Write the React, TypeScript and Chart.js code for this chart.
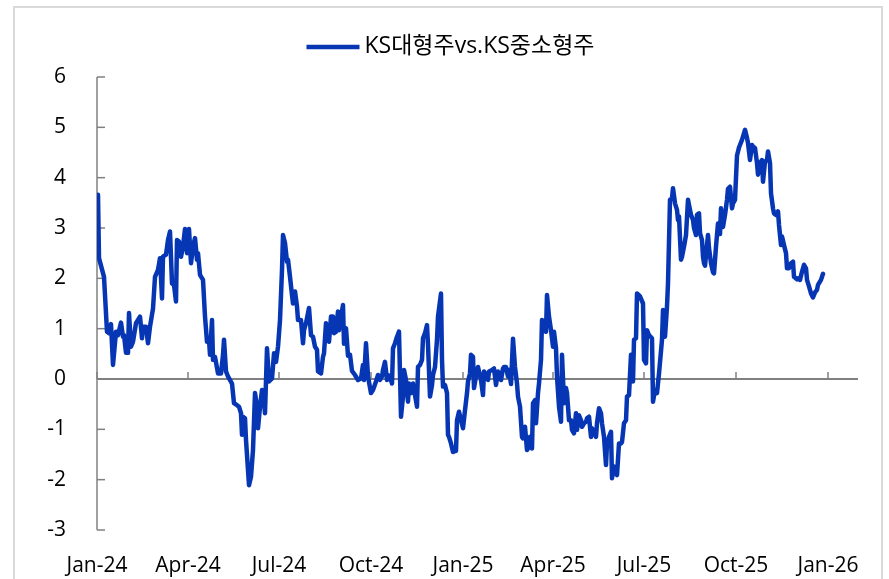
import React, { useEffect, useRef } from "react";
import { Chart, registerables } from "chart.js";

Chart.register(...registerables);

const seriesLabel = "KS대형주vs.KS중소형주";
const tickLabels = ["Jan-24", "Apr-24", "Jul-24", "Oct-24", "Jan-25", "Apr-25", "Jul-25", "Oct-25", "Jan-26"];
// days since 2024-01-01 for each quarter tick
const tickDays = [0, 91, 182, 274, 366, 456, 547, 639, 731];
const xMaxDay = 761;
const yMin = -3;
const yMax = 6;

// observation dates (days since 2024-01-01)
const daysSince2024 = [
  1, 2, 7, 10, 12, 14, 16, 19, 21, 24, 26, 27, 29, 31, 32, 34, 36, 39, 43, 45, 46, 49, 51, 53, 56, 58, 61, 63, 65, 66,
  69, 71, 73, 75, 77, 79, 80, 82, 84, 86, 88, 90, 92, 94, 96, 98, 100, 101, 103, 106, 108, 110, 112, 113, 115, 116, 118, 121, 124, 126,
  127, 129, 131, 135, 137, 140, 142, 144, 145, 146, 148, 149, 152, 154, 156, 158, 160, 161, 163, 165, 166, 168, 170, 172, 175, 177, 179, 181, 183, 185,
  186, 188, 190, 191, 193, 195, 196, 198, 200, 201, 204, 206, 207, 209, 210, 212, 214, 216, 218, 220, 221, 224, 226, 227, 229, 230, 232, 234, 236, 237,
  239, 241, 242, 244, 246, 247, 249, 251, 253, 255, 258, 261, 264, 266, 267, 269, 271, 274, 276, 279, 281, 283, 285, 286, 288, 290, 291, 293, 295, 296,
  298, 300, 302, 304, 306, 307, 309, 311, 312, 314, 316, 318, 320, 321, 323, 325, 326, 328, 330, 331, 333, 335, 336, 338, 340, 341, 344, 345, 346, 348,
  350, 351, 352, 354, 356, 359, 360, 362, 364, 366, 368, 370, 371, 373, 374, 376, 377, 379, 381, 382, 384, 386, 387, 389, 391, 392, 395, 397, 399, 401,
  402, 404, 406, 407, 409, 411, 412, 414, 416, 418, 420, 421, 423, 425, 426, 428, 430, 431, 433, 435, 436, 438, 439, 441, 442, 444, 445, 447, 449, 450,
  452, 454, 456, 457, 459, 460, 462, 464, 465, 467, 469, 470, 472, 474, 475, 477, 479, 480, 482, 484, 485, 487, 489, 490, 492, 494, 495, 497, 499, 500,
  502, 504, 505, 507, 509, 510, 512, 514, 515, 517, 519, 520, 522, 524, 525, 527, 529, 530, 532, 534, 536, 537, 539, 540, 543, 546, 547, 549, 550, 552,
  555, 556, 558, 560, 562, 565, 566, 568, 570, 571, 573, 575, 576, 578, 580, 581, 582, 584, 585, 587, 589, 591, 592, 594, 596, 597, 599, 600, 602, 603,
  605, 606, 607, 608, 611, 612, 614, 616, 617, 619, 621, 622, 623, 624, 626, 628, 630, 631, 633, 635, 636, 638, 640, 642, 645, 648, 650, 651, 653, 655,
  656, 658, 660, 661, 663, 665, 666, 668, 670, 671, 673, 674, 676, 677, 679, 681, 682, 684, 685, 687, 689, 690, 692, 694, 696, 697, 700, 701, 703, 705,
  707, 709, 710, 712, 714, 716, 718, 720, 721, 724, 726,
];

// KS large caps vs. KS small/mid caps spread
const spreadValues = [
  3.66, 2.40, 2.03, 0.94, 0.91, 1.09, 0.28, 0.94, 0.87, 1.12, 0.84, 0.87, 0.52, 0.52, 1.31, 0.64, 0.74, 1.11, 1.24, 0.81, 1.04, 1.04, 0.71, 1.04, 1.40, 2.03, 2.17, 2.40, 1.60, 2.43,
  2.47, 2.76, 2.93, 1.90, 1.87, 1.54, 2.76, 2.73, 2.43, 2.63, 2.98, 2.50, 2.98, 2.30, 2.63, 2.80, 2.37, 2.50, 2.07, 1.97, 1.24, 0.74, 0.78, 0.48, 1.17, 0.38, 0.44, 0.11, 0.11, 0.48,
  0.78, 0.15, 0.05, -0.09, -0.48, -0.52, -0.55, -0.68, -1.11, -0.75, -0.78, -1.21, -2.11, -1.94, -1.41, -0.28, -0.55, -0.98, -0.55, -0.22, -0.25, -0.68, 0.61, -0.05, 0.01, 0.51, 0.34, 0.64, 1.17, 2.17,
  2.86, 2.70, 2.33, 2.37, 2.03, 1.67, 1.50, 1.74, 1.44, 1.17, 1.17, 0.71, 0.97, 1.11, 1.21, 1.41, 0.87, 0.84, 0.64, 0.58, 0.15, 0.11, 0.44, 0.51, 1.11, 0.91, 0.74, 1.24, 1.24, 0.91,
  0.94, 1.34, 0.97, 1.24, 1.47, 0.70, 1.01, 0.46, 0.48, 0.16, 0.08, -0.02, 0.01, 0.28, -0.02, 0.71, 0.05, -0.28, -0.22, -0.05, 0.08, -0.02, 0.05, 0.18, 0.34, -0.02, 0.08, 0.05, -0.09, 0.61,
  0.71, 0.84, 0.94, -0.75, -0.35, 0.18, -0.02, -0.45, -0.09, -0.28, -0.09, -0.32, -0.55, 0.24, 0.28, 0.38, 0.81, 0.91, 1.07, 0.68, -0.35, -0.12, 0.08, 0.24, 0.78, 1.24, 1.70, 0.38, -0.15, -0.12,
  -0.28, -1.11, -1.15, -1.28, -1.45, -1.43, -0.82, -0.65, -0.82, -0.98, -0.62, -0.28, -0.05, 0.11, 0.48, 0.44, -0.18, 0.05, 0.24, 0.15, -0.02, -0.32, 0.15, 0.08, -0.02, 0.15, 0.18, 0.21, -0.12, 0.15,
  0.05, -0.02, 0.21, 0.24, 0.24, 0.05, 0.18, -0.10, 0.80, 0.24, -0.09, -0.35, -0.55, -1.15, -1.18, -0.95, -1.41, -1.38, -1.15, -1.38, -0.48, -0.42, -0.88, -0.28, -0.09, 0.38, 1.17, 1.14, 0.94, 1.67,
  1.24, 0.97, 0.64, 0.94, 0.61, 0.05, -0.55, -0.85, 0.48, -0.48, -0.18, -0.28, -0.82, -0.82, -1.01, -1.08, -0.68, -1.01, -0.72, -0.82, -0.95, -0.88, -0.85, -0.78, -0.75, -1.15, -0.98, -1.08, -1.15, -0.88,
  -0.58, -0.68, -0.88, -1.15, -1.71, -1.28, -1.15, -1.05, -1.97, -1.74, -1.84, -1.91, -1.28, -1.28, -1.25, -0.88, -0.82, -0.35, -0.32, 0.48, -0.05, 0.78, 0.81, 1.70, 1.64, 1.50, 0.38, 0.31, 0.97, 0.87,
  0.81, -0.45, -0.22, -0.28, 0.11, 0.78, 1.37, 0.84, 1.44, 1.90, 3.56, 3.59, 3.79, 3.49, 3.36, 3.16, 3.23, 2.37, 2.43, 2.63, 2.86, 3.56, 3.46, 3.26, 3.16, 3.00, 2.86, 3.26, 3.29, 2.90,
  2.76, 2.43, 2.30, 2.25, 2.86, 2.60, 2.30, 2.12, 2.10, 2.63, 3.09, 3.05, 2.88, 3.39, 3.02, 3.26, 3.56, 3.78, 3.82, 3.39, 3.49, 3.56, 4.44, 4.60, 4.75, 4.95, 4.79, 4.69, 4.35, 4.65,
  4.62, 4.59, 4.29, 4.06, 4.29, 4.35, 3.92, 4.32, 4.35, 4.52, 4.29, 3.69, 3.39, 3.29, 3.26, 3.33, 3.06, 2.66, 2.83, 2.66, 2.50, 2.20, 2.20, 2.30, 2.33, 2.03, 1.98, 2.00, 1.97, 2.13,
  2.27, 2.20, 1.97, 1.84, 1.70, 1.62, 1.72, 1.77, 1.87, 1.97, 2.09,
];

const LINE_COLOR = "#0736b4";
const AXIS_COLOR = "#808080";
const FONT_FAMILY = "'Open Sans', 'Noto Sans CJK KR', sans-serif";

const axesPlugin = {
  id: "excelAxes",
  beforeDatasetsDraw(chart: any) {
    const { ctx, scales } = chart;
    const x = scales.x;
    const y = scales.y;
    const x0 = x.getPixelForValue(0);
    const xEnd = x.getPixelForValue(xMaxDay);
    const yTop = y.getPixelForValue(yMax);
    const yBot = y.getPixelForValue(yMin);
    const yZero = y.getPixelForValue(0);
    ctx.save();
    ctx.strokeStyle = AXIS_COLOR;
    ctx.lineWidth = 1.5;
    ctx.beginPath();
    ctx.moveTo(x0, yTop);
    ctx.lineTo(x0, yBot);
    ctx.stroke();
    for (let v = yMin; v <= yMax; v++) {
      const py = y.getPixelForValue(v);
      ctx.beginPath();
      ctx.moveTo(x0, py);
      ctx.lineTo(x0 + 8, py);
      ctx.stroke();
    }
    ctx.lineWidth = 2;
    ctx.beginPath();
    ctx.moveTo(x0, yZero);
    ctx.lineTo(xEnd, yZero);
    ctx.stroke();
    ctx.lineWidth = 1.5;
    tickDays.forEach((d) => {
      const px = x.getPixelForValue(d);
      ctx.beginPath();
      ctx.moveTo(px, yZero);
      ctx.lineTo(px, yZero - 7);
      ctx.stroke();
    });
    ctx.restore();
  },
};

// legend drawn from the dataset label, centred above the plot
const legendPlugin = {
  id: "lineLegend",
  afterDraw(chart: any) {
    const { ctx } = chart;
    const ds = chart.data.datasets[0];
    const swatch = 53;
    const gap = 5;
    const cy = 46;
    ctx.save();
    ctx.font = `23px ${FONT_FAMILY}`;
    const tw = ctx.measureText(ds.label).width;
    const total = swatch + gap + tw;
    const startX = chart.width / 2 + 6 - total / 2;
    ctx.strokeStyle = ds.borderColor;
    ctx.lineWidth = 4.5;
    ctx.lineCap = "butt";
    ctx.beginPath();
    ctx.moveTo(startX, cy + 1);
    ctx.lineTo(startX + swatch, cy + 1);
    ctx.stroke();
    ctx.fillStyle = "#000000";
    ctx.textBaseline = "middle";
    ctx.textAlign = "left";
    ctx.fillText(ds.label, startX + swatch + gap, cy);
    ctx.restore();
  },
};

export default function App() {
  const canvasRef = useRef<HTMLCanvasElement | null>(null);

  useEffect(() => {
    const canvas = canvasRef.current;
    if (!canvas) return;
    const chart = new Chart(canvas, {
      type: "line",
      data: {
        datasets: [
          {
            label: seriesLabel,
            data: daysSince2024.map((d, i) => ({ x: d, y: spreadValues[i] })),
            borderColor: LINE_COLOR,
            backgroundColor: LINE_COLOR,
            borderWidth: 4.5,
            pointRadius: 0,
            tension: 0,
            fill: false,
            borderJoinStyle: "round",
            borderCapStyle: "round",
          },
        ],
      },
      options: {
        animation: false,
        responsive: false,
        maintainAspectRatio: false,
        layout: { padding: { top: 77, left: 0, right: 31, bottom: 0 } },
        plugins: {
          tooltip: { enabled: false },
          legend: { display: false },
        },
        scales: {
          x: {
            type: "linear",
            min: 0,
            max: xMaxDay,
            afterBuildTicks: (s: any) => {
              s.ticks = tickDays.map((v) => ({ value: v }));
            },
            afterFit: (s: any) => {
              s.height = 49;
            },
            ticks: {
              autoSkip: false,
              maxRotation: 0,
              minRotation: 0,
              padding: 23,
              color: "#000000",
              font: { size: 21, family: FONT_FAMILY },
              callback: (v: any) => {
                const idx = tickDays.indexOf(Number(v));
                return idx >= 0 ? tickLabels[idx] : "";
              },
            },
            grid: { display: false, drawTicks: false },
            border: { display: false },
          },
          y: {
            min: yMin,
            max: yMax,
            afterFit: (s: any) => {
              s.width = 97;
            },
            ticks: {
              stepSize: 1,
              padding: 31,
              color: "#000000",
              font: { size: 21, family: FONT_FAMILY },
            },
            grid: { display: false, drawTicks: false },
            border: { display: false },
          },
        },
      },
      plugins: [axesPlugin, legendPlugin],
    } as any);
    return () => chart.destroy();
  }, []);

  return (
    <div
      style={{
        position: "fixed",
        left: 0,
        top: 0,
        width: 889,
        height: 579,
        background: "#ffffff",
        overflow: "hidden",
      }}
    >
      <div
        style={{
          position: "absolute",
          left: 13,
          top: 6,
          width: 870,
          height: 700,
          border: "2px solid #d9d9d9",
          boxSizing: "border-box",
          pointerEvents: "none",
        }}
      />
      <canvas
        ref={canvasRef}
        width={889}
        height={579}
        style={{ position: "absolute", left: 0, top: 0, width: 889, height: 579 }}
      />
    </div>
  );
}
